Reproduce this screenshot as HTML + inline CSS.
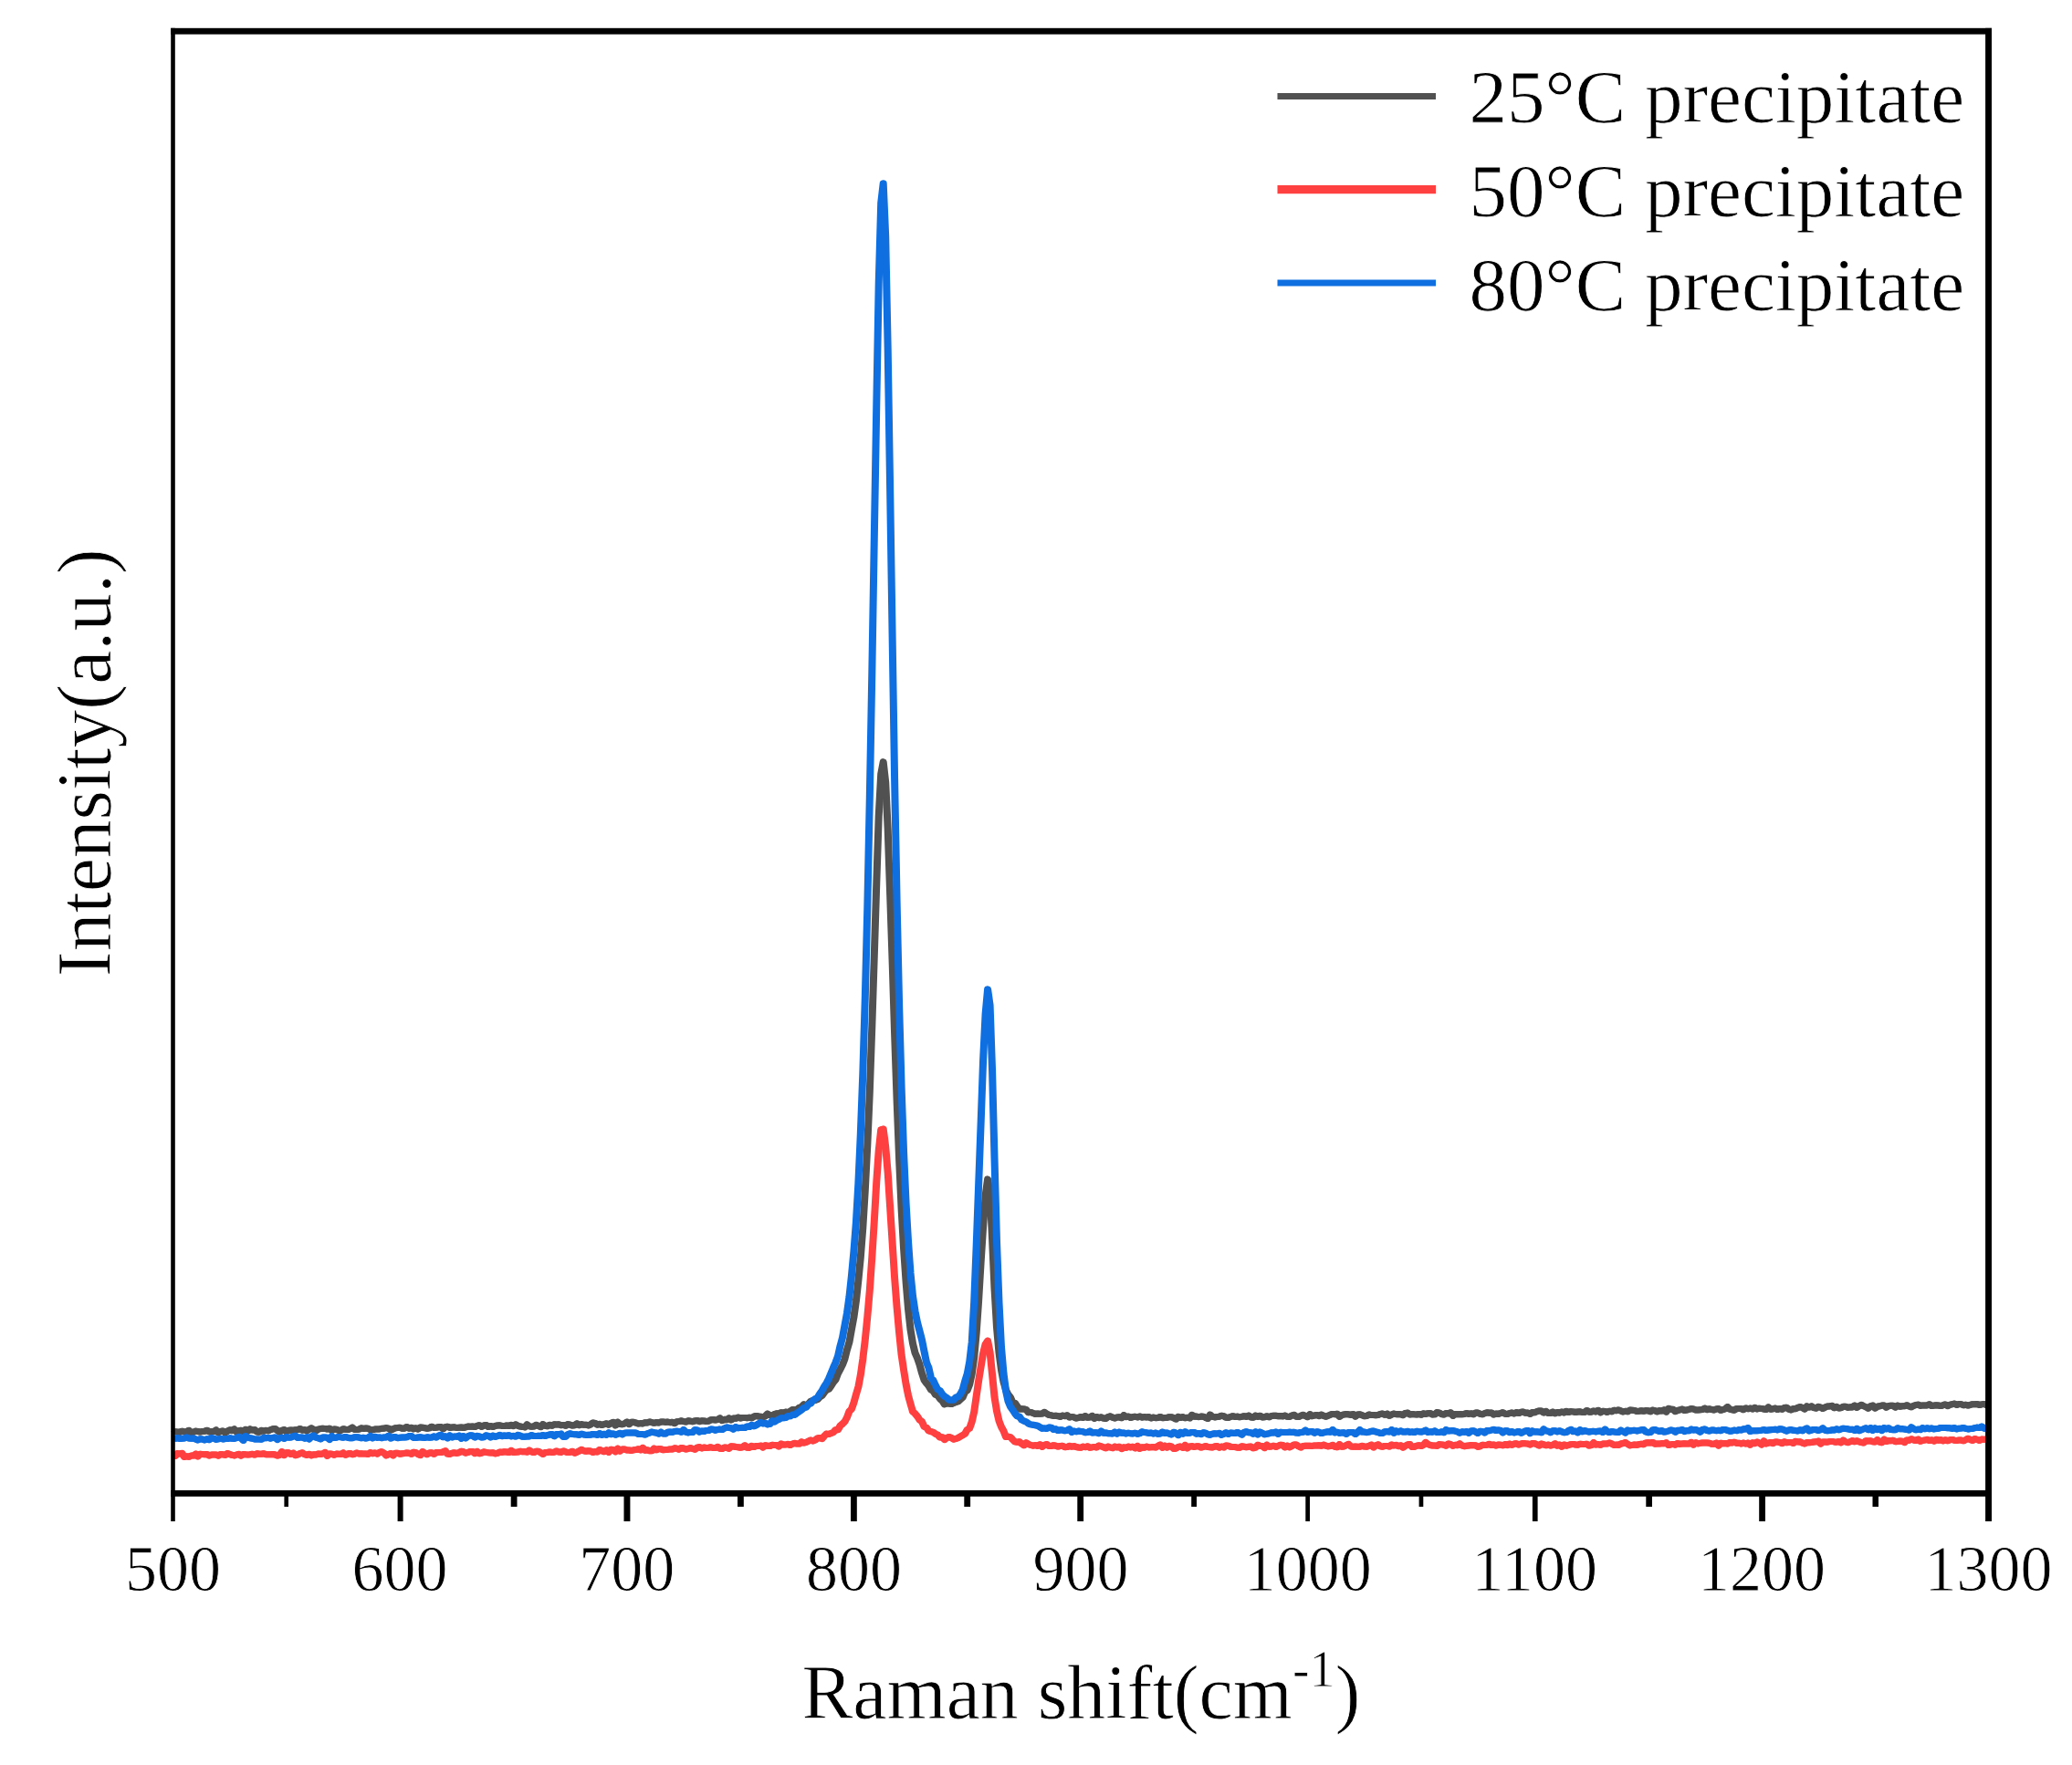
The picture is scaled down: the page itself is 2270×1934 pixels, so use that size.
<!DOCTYPE html>
<html lang="en"><head><meta charset="utf-8"><title>Raman spectra of precipitates</title>
<style>
html,body{margin:0;padding:0;background:#fff;}
body{width:2270px;height:1934px;overflow:hidden;}
svg{display:block;}
svg text{font-family:"Liberation Serif","Times New Roman",serif;fill:#000;stroke:#fff;stroke-width:0.8px;}
</style></head><body>
<svg width="2270" height="1934" viewBox="0 0 2270 1934">
<rect x="0" y="0" width="2270" height="1934" fill="#fff"/>
<g id="curves">
<polyline id="c0" transform="translate(-0.5,0)" points="191.0,1570.6 192.0,1568.7 194.5,1569.1 197.0,1569.4 199.4,1568.2 201.9,1568.9 204.4,1568.9 206.9,1567.3 209.4,1569.7 211.9,1569.3 214.4,1568.1 216.8,1568.5 219.3,1569.1 221.8,1568.4 224.3,1568.3 226.8,1567.2 229.3,1569.0 231.8,1568.5 234.3,1568.6 236.7,1567.0 239.2,1569.8 241.7,1568.4 244.2,1567.9 246.7,1570.0 249.2,1568.1 251.7,1566.8 254.1,1567.7 256.6,1566.0 259.1,1568.9 261.6,1567.6 264.1,1567.2 266.6,1568.8 269.1,1566.3 271.5,1568.3 274.0,1565.9 276.5,1567.1 279.0,1566.6 281.5,1568.9 284.0,1569.2 286.5,1567.2 289.0,1568.2 291.4,1567.3 293.9,1567.9 296.4,1566.7 298.9,1565.8 301.4,1565.6 303.9,1567.6 306.4,1569.2 308.8,1567.4 311.3,1566.6 313.8,1568.8 316.3,1567.2 318.8,1567.1 321.3,1567.2 323.8,1566.8 326.2,1566.6 328.7,1565.5 331.2,1567.2 333.7,1566.6 336.2,1567.8 338.7,1566.3 341.2,1564.9 343.7,1566.5 346.1,1568.0 348.6,1566.1 351.1,1565.6 353.6,1565.3 356.1,1565.4 358.6,1566.0 361.1,1565.2 363.5,1567.6 366.0,1565.9 368.5,1566.2 371.0,1567.4 373.5,1567.4 376.0,1565.8 378.5,1566.3 380.9,1566.6 383.4,1565.7 385.9,1564.2 388.4,1566.4 390.9,1566.6 393.4,1566.1 395.9,1564.8 398.3,1565.4 400.8,1565.1 403.3,1565.3 405.8,1566.7 408.3,1566.8 410.8,1566.0 413.3,1565.9 415.8,1565.9 418.2,1565.3 420.7,1565.2 423.2,1564.6 425.7,1565.1 428.2,1567.1 430.7,1565.8 433.2,1564.7 435.6,1564.5 438.1,1564.2 440.6,1565.2 443.1,1565.2 445.6,1563.5 448.1,1565.2 450.6,1564.2 453.0,1565.9 455.5,1564.8 458.0,1566.1 460.5,1564.1 463.0,1564.2 465.5,1564.7 468.0,1565.3 470.5,1564.9 472.9,1563.2 475.4,1564.4 477.9,1564.2 480.4,1563.8 482.9,1563.5 485.4,1565.7 487.9,1563.7 490.3,1563.2 492.8,1564.5 495.3,1564.0 497.8,1563.8 500.3,1564.5 502.8,1564.2 505.3,1564.0 507.7,1564.5 510.2,1563.9 512.7,1563.0 515.2,1563.2 517.7,1563.0 520.2,1563.6 522.7,1562.4 525.2,1561.7 527.6,1563.4 530.1,1562.0 532.6,1561.4 535.1,1563.5 537.6,1562.5 540.1,1563.5 542.6,1562.5 545.0,1561.9 547.5,1561.8 550.0,1562.4 552.5,1562.6 555.0,1562.0 557.5,1562.5 560.0,1561.3 562.4,1562.6 564.9,1560.9 567.4,1562.3 569.9,1563.1 572.4,1563.4 574.9,1563.9 577.4,1560.9 579.8,1562.9 582.3,1563.3 584.8,1563.0 587.3,1561.3 589.8,1562.4 592.3,1563.7 594.8,1560.6 597.3,1562.3 599.7,1562.8 602.2,1561.2 604.7,1562.3 607.2,1560.7 609.7,1560.9 612.2,1560.8 614.7,1561.7 617.1,1561.4 619.6,1562.3 622.1,1560.5 624.6,1561.2 627.1,1562.1 629.6,1561.7 632.1,1559.9 634.5,1561.7 637.0,1560.6 639.5,1561.3 642.0,1561.2 644.5,1561.9 647.0,1560.9 649.5,1559.0 652.0,1559.4 654.4,1561.2 656.9,1560.3 659.4,1561.5 661.9,1560.6 664.4,1559.7 666.9,1561.2 669.4,1559.5 671.8,1558.3 674.3,1561.9 676.8,1558.3 679.3,1560.5 681.8,1560.7 684.3,1559.9 686.8,1558.2 689.2,1560.6 691.7,1558.3 694.2,1558.3 696.7,1559.1 699.2,1560.1 701.7,1559.6 704.2,1559.9 706.7,1558.7 709.1,1558.9 711.6,1557.9 714.1,1558.6 716.6,1559.3 719.1,1558.5 721.6,1559.1 724.1,1558.0 726.5,1557.9 729.0,1558.4 731.5,1558.1 734.0,1558.7 736.5,1558.3 739.0,1559.6 741.5,1557.7 743.9,1557.6 746.4,1556.8 748.9,1557.6 751.4,1558.1 753.9,1556.7 756.4,1557.2 758.9,1557.8 761.3,1556.9 763.8,1556.4 766.3,1557.7 768.8,1556.8 771.3,1556.9 773.8,1557.5 776.3,1557.3 778.8,1555.8 781.2,1555.5 783.7,1556.1 786.2,1555.6 788.7,1553.9 791.2,1556.6 793.7,1555.3 796.2,1555.8 798.6,1553.9 801.1,1555.9 803.6,1554.1 806.1,1554.3 808.6,1553.0 811.1,1553.9 813.6,1553.6 816.0,1553.4 818.5,1553.8 821.0,1553.2 823.5,1553.8 826.0,1552.2 828.5,1551.4 831.0,1552.0 833.5,1552.3 835.9,1552.6 838.4,1551.8 840.9,1549.2 843.4,1550.7 845.9,1551.3 848.4,1549.6 850.9,1548.7 853.3,1549.0 855.8,1547.7 858.3,1548.2 860.8,1547.1 863.3,1547.8 865.8,1546.3 868.3,1544.5 870.7,1545.0 873.2,1544.5 875.7,1542.3 878.2,1541.5 880.7,1538.8 883.2,1540.6 885.7,1538.1 888.2,1535.5 890.6,1534.4 893.1,1534.3 895.6,1533.5 898.1,1530.9 900.6,1529.3 903.1,1525.7 905.6,1522.9 908.0,1522.1 910.5,1518.6 913.0,1514.6 915.5,1511.7 918.0,1505.1 920.5,1500.3 923.0,1495.5 925.4,1489.2 927.9,1479.2 930.4,1470.8 932.9,1456.9 935.4,1443.4 937.9,1425.5 940.4,1402.7 942.8,1377.8 945.3,1345.5 947.8,1304.1 950.3,1254.8 952.8,1196.7 955.3,1124.8 957.8,1046.8 960.3,967.2 962.7,894.6 965.2,848.1 967.7,834.9 970.2,857.2 972.7,908.8 975.2,981.4 977.7,1055.7 980.1,1132.8 982.6,1205.9 985.1,1270.3 987.6,1324.7 990.1,1368.9 992.6,1405.0 995.1,1435.2 997.5,1456.6 1000.0,1472.0 1002.5,1482.4 1005.0,1488.1 1007.5,1495.3 1010.0,1504.5 1012.5,1512.2 1015.0,1515.7 1017.4,1518.4 1019.9,1522.8 1022.4,1524.1 1024.9,1528.3 1027.4,1529.2 1029.9,1532.8 1032.4,1535.0 1034.8,1538.8 1037.3,1537.8 1039.8,1538.1 1042.3,1538.6 1044.8,1537.4 1047.3,1536.5 1049.8,1535.6 1052.2,1533.4 1054.7,1531.1 1057.2,1525.2 1059.7,1523.6 1062.2,1517.0 1064.7,1505.4 1067.2,1487.6 1069.7,1460.5 1072.1,1425.8 1074.6,1383.3 1077.1,1344.3 1079.6,1310.1 1082.1,1292.1 1084.6,1306.7 1087.1,1358.4 1089.5,1411.8 1092.0,1454.5 1094.5,1482.4 1097.0,1501.1 1099.5,1514.3 1102.0,1523.1 1104.5,1528.0 1106.9,1530.9 1109.4,1536.7 1111.9,1537.3 1114.4,1540.9 1116.9,1544.1 1119.4,1543.8 1121.9,1543.9 1124.3,1544.6 1126.8,1547.8 1129.3,1547.4 1131.8,1548.5 1134.3,1549.4 1136.8,1549.0 1139.3,1549.2 1141.8,1549.0 1144.2,1547.4 1146.7,1549.1 1149.2,1550.6 1151.7,1550.8 1154.2,1551.5 1156.7,1551.2 1159.2,1551.7 1161.6,1552.4 1164.1,1551.0 1166.6,1551.7 1169.1,1550.7 1171.6,1553.1 1174.1,1552.4 1176.6,1552.9 1179.0,1553.9 1181.5,1553.6 1184.0,1552.6 1186.5,1553.5 1189.0,1551.5 1191.5,1553.3 1194.0,1553.1 1196.5,1551.5 1198.9,1554.3 1201.4,1552.5 1203.9,1553.7 1206.4,1552.8 1208.9,1554.1 1211.4,1554.4 1213.9,1552.5 1216.3,1551.8 1218.8,1553.1 1221.3,1554.0 1223.8,1552.9 1226.3,1552.7 1228.8,1553.7 1231.3,1550.8 1233.7,1552.7 1236.2,1552.0 1238.7,1553.5 1241.2,1552.6 1243.7,1552.3 1246.2,1552.9 1248.7,1551.9 1251.2,1553.2 1253.6,1552.6 1256.1,1552.9 1258.6,1552.6 1261.1,1554.0 1263.6,1553.1 1266.1,1553.7 1268.6,1553.6 1271.0,1552.4 1273.5,1553.7 1276.0,1553.4 1278.5,1553.4 1281.0,1552.7 1283.5,1552.7 1286.0,1553.8 1288.4,1555.0 1290.9,1552.3 1293.4,1553.5 1295.9,1552.6 1298.4,1553.7 1300.9,1553.3 1303.4,1553.9 1305.8,1550.4 1308.3,1552.3 1310.8,1552.0 1313.3,1552.7 1315.8,1552.1 1318.3,1552.2 1320.8,1553.4 1323.3,1554.4 1325.7,1550.1 1328.2,1552.4 1330.7,1552.9 1333.2,1552.6 1335.7,1552.3 1338.2,1551.3 1340.7,1551.7 1343.1,1553.2 1345.6,1553.4 1348.1,1552.5 1350.6,1551.7 1353.1,1552.5 1355.6,1552.1 1358.1,1552.8 1360.5,1552.4 1363.0,1551.7 1365.5,1552.4 1368.0,1551.1 1370.5,1552.9 1373.0,1553.2 1375.5,1551.1 1378.0,1552.5 1380.4,1551.2 1382.9,1553.0 1385.4,1552.8 1387.9,1551.7 1390.4,1552.8 1392.9,1551.5 1395.4,1551.3 1397.8,1551.3 1400.3,1551.7 1402.8,1551.5 1405.3,1551.9 1407.8,1551.1 1410.3,1552.3 1412.8,1552.5 1415.2,1551.1 1417.7,1550.3 1420.2,1552.2 1422.7,1552.5 1425.2,1551.3 1427.7,1550.3 1430.2,1551.6 1432.7,1552.7 1435.1,1549.6 1437.6,1551.7 1440.1,1551.0 1442.6,1550.4 1445.1,1551.6 1447.6,1550.0 1450.1,1551.4 1452.5,1552.3 1455.0,1551.2 1457.5,1550.2 1460.0,1549.4 1462.5,1549.8 1465.0,1549.2 1467.5,1552.3 1469.9,1550.6 1472.4,1549.9 1474.9,1549.6 1477.4,1549.8 1479.9,1550.4 1482.4,1549.5 1484.9,1552.1 1487.3,1549.9 1489.8,1549.8 1492.3,1550.8 1494.8,1551.8 1497.3,1551.6 1499.8,1550.0 1502.3,1550.6 1504.8,1550.5 1507.2,1550.8 1509.7,1550.5 1512.2,1549.4 1514.7,1549.0 1517.2,1550.3 1519.7,1549.0 1522.2,1551.3 1524.6,1550.1 1527.1,1549.1 1529.6,1549.7 1532.1,1549.5 1534.6,1549.8 1537.1,1550.7 1539.6,1548.5 1542.0,1548.1 1544.5,1550.0 1547.0,1549.5 1549.5,1549.8 1552.0,1550.0 1554.5,1549.4 1557.0,1550.3 1559.5,1548.7 1561.9,1549.5 1564.4,1548.7 1566.9,1548.4 1569.4,1549.9 1571.9,1549.8 1574.4,1547.5 1576.9,1548.2 1579.3,1549.5 1581.8,1550.1 1584.3,1548.5 1586.8,1548.9 1589.3,1547.8 1591.8,1551.3 1594.3,1549.4 1596.7,1549.7 1599.2,1549.5 1601.7,1549.7 1604.2,1549.4 1606.7,1548.5 1609.2,1549.4 1611.7,1548.8 1614.1,1549.8 1616.6,1548.0 1619.1,1548.1 1621.6,1549.2 1624.1,1549.7 1626.6,1548.6 1629.1,1547.8 1631.6,1548.3 1634.0,1547.9 1636.5,1550.0 1639.0,1549.1 1641.5,1549.4 1644.0,1548.5 1646.5,1547.7 1649.0,1549.2 1651.4,1549.6 1653.9,1548.6 1656.4,1548.0 1658.9,1549.0 1661.4,1547.6 1663.9,1548.6 1666.4,1547.2 1668.8,1547.0 1671.3,1548.3 1673.8,1548.1 1676.3,1549.4 1678.8,1547.4 1681.3,1547.7 1683.8,1546.6 1686.3,1545.9 1688.7,1545.9 1691.2,1547.9 1693.7,1546.4 1696.2,1548.4 1698.7,1548.6 1701.2,1547.1 1703.7,1548.8 1706.1,1547.4 1708.6,1548.2 1711.1,1547.0 1713.6,1548.0 1716.1,1546.2 1718.6,1547.6 1721.1,1546.6 1723.5,1546.9 1726.0,1547.5 1728.5,1547.0 1731.0,1546.8 1733.5,1547.5 1736.0,1547.5 1738.5,1545.5 1741.0,1547.2 1743.4,1547.3 1745.9,1545.9 1748.4,1546.9 1750.9,1545.3 1753.4,1547.8 1755.9,1546.2 1758.4,1546.4 1760.8,1547.5 1763.3,1546.2 1765.8,1546.8 1768.3,1545.3 1770.8,1545.7 1773.3,1544.9 1775.8,1546.0 1778.2,1547.0 1780.7,1546.3 1783.2,1546.8 1785.7,1545.1 1788.2,1545.2 1790.7,1545.5 1793.2,1546.4 1795.6,1546.2 1798.1,1545.8 1800.6,1546.3 1803.1,1545.6 1805.6,1545.7 1808.1,1546.8 1810.6,1545.1 1813.1,1545.7 1815.5,1547.0 1818.0,1545.6 1820.5,1546.1 1823.0,1544.9 1825.5,1547.1 1828.0,1543.3 1830.5,1544.3 1832.9,1544.3 1835.4,1546.7 1837.9,1545.5 1840.4,1544.9 1842.9,1543.9 1845.4,1545.4 1847.9,1545.1 1850.3,1544.3 1852.8,1543.6 1855.3,1543.9 1857.8,1545.0 1860.3,1545.1 1862.8,1544.8 1865.3,1544.6 1867.8,1543.1 1870.2,1544.7 1872.7,1543.7 1875.2,1544.6 1877.7,1544.9 1880.2,1543.9 1882.7,1543.5 1885.2,1545.3 1887.6,1544.7 1890.1,1543.8 1892.6,1541.6 1895.1,1544.2 1897.6,1544.8 1900.1,1545.2 1902.6,1543.5 1905.0,1543.5 1907.5,1543.6 1910.0,1544.7 1912.5,1542.9 1915.0,1543.8 1917.5,1543.0 1920.0,1544.0 1922.5,1542.3 1924.9,1544.0 1927.4,1543.2 1929.9,1543.4 1932.4,1544.0 1934.9,1544.5 1937.4,1541.9 1939.9,1544.3 1942.3,1543.9 1944.8,1543.0 1947.3,1544.5 1949.8,1543.4 1952.3,1544.3 1954.8,1542.6 1957.3,1542.3 1959.7,1544.1 1962.2,1544.9 1964.7,1543.5 1967.2,1543.7 1969.7,1542.4 1972.2,1541.6 1974.7,1542.5 1977.1,1544.0 1979.6,1540.9 1982.1,1542.1 1984.6,1540.8 1987.1,1542.6 1989.6,1543.2 1992.1,1541.3 1994.6,1542.0 1997.0,1543.5 1999.5,1542.1 2002.0,1541.1 2004.5,1540.9 2007.0,1540.3 2009.5,1542.7 2012.0,1541.3 2014.4,1542.9 2016.9,1542.7 2019.4,1541.2 2021.9,1541.3 2024.4,1542.4 2026.9,1541.8 2029.4,1541.9 2031.8,1540.1 2034.3,1542.4 2036.8,1540.7 2039.3,1539.4 2041.8,1540.8 2044.3,1541.7 2046.8,1543.2 2049.3,1540.9 2051.7,1540.0 2054.2,1543.1 2056.7,1541.3 2059.2,1540.8 2061.7,1540.0 2064.2,1540.1 2066.7,1542.2 2069.1,1540.6 2071.6,1540.3 2074.1,1540.3 2076.6,1542.1 2079.1,1540.1 2081.6,1541.2 2084.1,1540.8 2086.5,1540.7 2089.0,1539.7 2091.5,1541.0 2094.0,1541.8 2096.5,1540.3 2099.0,1539.5 2101.5,1539.1 2104.0,1540.4 2106.4,1539.9 2108.9,1540.0 2111.4,1540.0 2113.9,1538.7 2116.4,1540.6 2118.9,1540.1 2121.4,1539.8 2123.8,1540.0 2126.3,1540.6 2128.8,1539.7 2131.3,1538.9 2133.8,1540.6 2136.3,1539.2 2138.8,1538.8 2141.2,1538.0 2143.7,1539.4 2146.2,1538.4 2148.7,1538.8 2151.2,1539.7 2153.7,1539.2 2156.2,1540.1 2158.6,1539.4 2161.1,1538.7 2163.6,1538.7 2166.1,1538.5 2168.6,1539.5 2171.1,1538.9 2173.6,1538.4 2176.1,1539.5 2176.0,1538.9" fill="none" stroke="#515151" stroke-width="7" stroke-linejoin="round" stroke-linecap="butt"/>
<use href="#c0" x="1" y="0"/>
<polyline id="c1" transform="translate(-0.5,0)" points="191.0,1594.5 192.0,1595.4 194.5,1592.6 197.0,1593.1 199.4,1592.3 201.9,1596.5 204.4,1595.8 206.9,1596.3 209.4,1595.0 211.9,1595.1 214.4,1593.2 216.8,1595.9 219.3,1593.2 221.8,1593.6 224.3,1593.8 226.8,1593.4 229.3,1594.9 231.8,1593.9 234.3,1594.0 236.7,1593.9 239.2,1595.2 241.7,1593.5 244.2,1593.8 246.7,1594.4 249.2,1592.5 251.7,1593.5 254.1,1594.4 256.6,1594.9 259.1,1594.0 261.6,1593.3 264.1,1595.1 266.6,1593.6 269.1,1593.8 271.5,1593.9 274.0,1593.7 276.5,1593.3 279.0,1594.1 281.5,1592.7 284.0,1593.2 286.5,1593.3 289.0,1592.8 291.4,1593.7 293.9,1593.7 296.4,1593.7 298.9,1593.4 301.4,1594.0 303.9,1595.1 306.4,1594.4 308.8,1590.7 311.3,1594.5 313.8,1591.8 316.3,1591.8 318.8,1593.5 321.3,1592.2 323.8,1594.8 326.2,1594.0 328.7,1592.6 331.2,1591.8 333.7,1593.6 336.2,1594.4 338.7,1593.3 341.2,1594.9 343.7,1593.7 346.1,1593.9 348.6,1592.9 351.1,1593.5 353.6,1592.9 356.1,1591.4 358.6,1595.3 361.1,1592.9 363.5,1593.2 366.0,1594.2 368.5,1593.1 371.0,1593.2 373.5,1593.4 376.0,1591.9 378.5,1594.3 380.9,1593.2 383.4,1592.4 385.9,1593.7 388.4,1593.2 390.9,1592.0 393.4,1593.0 395.9,1592.8 398.3,1593.1 400.8,1593.1 403.3,1593.4 405.8,1591.6 408.3,1592.7 410.8,1591.9 413.3,1593.1 415.8,1591.4 418.2,1590.7 420.7,1592.2 423.2,1594.9 425.7,1593.6 428.2,1592.6 430.7,1594.8 433.2,1592.3 435.6,1592.3 438.1,1593.2 440.6,1592.7 443.1,1592.4 445.6,1592.0 448.1,1592.3 450.6,1593.3 453.0,1591.2 455.5,1591.7 458.0,1593.5 460.5,1594.6 463.0,1590.6 465.5,1592.6 468.0,1593.7 470.5,1592.0 472.9,1591.7 475.4,1593.3 477.9,1591.6 480.4,1591.5 482.9,1591.6 485.4,1590.8 487.9,1589.9 490.3,1593.1 492.8,1593.5 495.3,1592.2 497.8,1591.8 500.3,1592.4 502.8,1591.8 505.3,1590.3 507.7,1590.8 510.2,1592.2 512.7,1591.5 515.2,1590.4 517.7,1590.5 520.2,1592.6 522.7,1590.4 525.2,1592.8 527.6,1592.1 530.1,1590.8 532.6,1591.4 535.1,1591.8 537.6,1591.9 540.1,1591.8 542.6,1592.9 545.0,1592.4 547.5,1591.1 550.0,1591.4 552.5,1590.7 555.0,1591.0 557.5,1591.5 560.0,1589.3 562.4,1591.5 564.9,1591.3 567.4,1591.1 569.9,1590.2 572.4,1590.8 574.9,1590.6 577.4,1591.2 579.8,1589.0 582.3,1590.9 584.8,1591.6 587.3,1590.3 589.8,1590.2 592.3,1591.7 594.8,1593.4 597.3,1591.5 599.7,1591.5 602.2,1590.9 604.7,1591.5 607.2,1591.3 609.7,1589.9 612.2,1591.0 614.7,1591.4 617.1,1589.9 619.6,1590.8 622.1,1591.6 624.6,1591.3 627.1,1590.3 629.6,1592.2 632.1,1591.2 634.5,1590.0 637.0,1588.4 639.5,1589.8 642.0,1590.2 644.5,1589.7 647.0,1590.0 649.5,1591.4 652.0,1590.6 654.4,1591.0 656.9,1588.5 659.4,1589.7 661.9,1590.8 664.4,1588.8 666.9,1591.3 669.4,1588.3 671.8,1588.8 674.3,1590.7 676.8,1587.3 679.3,1590.0 681.8,1588.1 684.3,1588.1 686.8,1589.1 689.2,1589.0 691.7,1589.5 694.2,1588.8 696.7,1588.6 699.2,1587.7 701.7,1589.0 704.2,1586.4 706.7,1589.2 709.1,1588.7 711.6,1589.7 714.1,1589.7 716.6,1587.1 719.1,1588.8 721.6,1587.5 724.1,1587.7 726.5,1588.8 729.0,1588.5 731.5,1588.4 734.0,1587.9 736.5,1588.0 739.0,1586.8 741.5,1587.2 743.9,1588.2 746.4,1586.5 748.9,1587.0 751.4,1588.1 753.9,1587.3 756.4,1586.6 758.9,1587.5 761.3,1588.3 763.8,1586.2 766.3,1585.6 768.8,1587.0 771.3,1586.1 773.8,1586.4 776.3,1586.2 778.8,1585.8 781.2,1586.5 783.7,1586.6 786.2,1585.4 788.7,1587.2 791.2,1587.5 793.7,1586.0 796.2,1586.3 798.6,1587.4 801.1,1584.8 803.6,1584.9 806.1,1585.5 808.6,1585.7 811.1,1586.2 813.6,1585.8 816.0,1583.8 818.5,1586.3 821.0,1586.4 823.5,1584.3 826.0,1585.6 828.5,1584.4 831.0,1584.5 833.5,1584.1 835.9,1586.0 838.4,1583.7 840.9,1584.3 843.4,1584.6 845.9,1583.2 848.4,1583.6 850.9,1583.5 853.3,1585.0 855.8,1582.1 858.3,1583.0 860.8,1583.0 863.3,1582.3 865.8,1583.5 868.3,1582.0 870.7,1581.3 873.2,1582.1 875.7,1582.1 878.2,1579.8 880.7,1581.0 883.2,1580.4 885.7,1579.2 888.2,1578.0 890.6,1578.9 893.1,1578.0 895.6,1575.9 898.1,1575.5 900.6,1576.6 903.1,1573.5 905.6,1571.1 908.0,1571.5 910.5,1570.5 913.0,1569.5 915.5,1566.7 918.0,1566.8 920.5,1562.3 923.0,1560.2 925.4,1557.8 927.9,1553.2 930.4,1546.5 932.9,1544.0 935.4,1537.0 937.9,1528.0 940.4,1519.5 942.8,1506.7 945.3,1489.2 947.8,1468.2 950.3,1443.0 952.8,1414.1 955.3,1377.9 957.8,1338.1 960.3,1294.5 962.7,1260.9 965.2,1237.8 967.7,1237.0 970.2,1256.5 972.7,1285.2 975.2,1324.0 977.7,1362.7 980.1,1400.1 982.6,1432.5 985.1,1460.3 987.6,1484.6 990.1,1501.2 992.6,1516.7 995.1,1529.3 997.5,1538.1 1000.0,1546.8 1002.5,1548.9 1005.0,1551.9 1007.5,1555.8 1010.0,1557.6 1012.5,1563.3 1015.0,1564.3 1017.4,1567.7 1019.9,1568.7 1022.4,1569.4 1024.9,1571.2 1027.4,1572.3 1029.9,1575.0 1032.4,1574.7 1034.8,1577.5 1037.3,1575.5 1039.8,1574.4 1042.3,1575.5 1044.8,1577.2 1047.3,1576.5 1049.8,1575.5 1052.2,1574.0 1054.7,1572.6 1057.2,1571.0 1059.7,1566.5 1062.2,1565.2 1064.7,1558.0 1067.2,1546.9 1069.7,1529.8 1072.1,1513.2 1074.6,1497.7 1077.1,1482.9 1079.6,1472.9 1082.1,1469.2 1084.6,1481.8 1087.1,1506.7 1089.5,1530.6 1092.0,1546.1 1094.5,1557.0 1097.0,1563.5 1099.5,1568.0 1102.0,1574.4 1104.5,1574.2 1106.9,1574.7 1109.4,1577.4 1111.9,1579.9 1114.4,1580.3 1116.9,1579.8 1119.4,1582.1 1121.9,1583.7 1124.3,1580.8 1126.8,1582.5 1129.3,1583.5 1131.8,1584.2 1134.3,1583.6 1136.8,1584.4 1139.3,1582.8 1141.8,1585.3 1144.2,1583.3 1146.7,1582.5 1149.2,1584.5 1151.7,1584.5 1154.2,1583.7 1156.7,1584.2 1159.2,1585.1 1161.6,1584.4 1164.1,1584.3 1166.6,1585.7 1169.1,1585.6 1171.6,1584.3 1174.1,1585.2 1176.6,1584.6 1179.0,1585.5 1181.5,1586.0 1184.0,1586.3 1186.5,1585.1 1189.0,1585.7 1191.5,1584.8 1194.0,1586.3 1196.5,1585.9 1198.9,1585.4 1201.4,1586.0 1203.9,1584.0 1206.4,1584.8 1208.9,1585.7 1211.4,1586.8 1213.9,1585.1 1216.3,1586.0 1218.8,1586.7 1221.3,1585.1 1223.8,1586.0 1226.3,1585.2 1228.8,1587.6 1231.3,1585.8 1233.7,1586.4 1236.2,1585.1 1238.7,1585.9 1241.2,1585.2 1243.7,1586.8 1246.2,1584.5 1248.7,1587.4 1251.2,1585.8 1253.6,1586.2 1256.1,1585.1 1258.6,1585.9 1261.1,1585.8 1263.6,1585.6 1266.1,1586.0 1268.6,1584.4 1271.0,1583.0 1273.5,1586.2 1276.0,1584.2 1278.5,1586.1 1281.0,1584.2 1283.5,1585.1 1286.0,1587.6 1288.4,1587.0 1290.9,1585.5 1293.4,1585.0 1295.9,1586.3 1298.4,1583.5 1300.9,1586.8 1303.4,1584.9 1305.8,1584.6 1308.3,1585.5 1310.8,1584.8 1313.3,1584.7 1315.8,1586.1 1318.3,1585.3 1320.8,1584.6 1323.3,1585.6 1325.7,1585.8 1328.2,1586.0 1330.7,1585.0 1333.2,1584.5 1335.7,1586.2 1338.2,1585.1 1340.7,1586.0 1343.1,1583.9 1345.6,1584.2 1348.1,1585.3 1350.6,1585.4 1353.1,1585.6 1355.6,1586.2 1358.1,1586.3 1360.5,1584.7 1363.0,1585.1 1365.5,1585.8 1368.0,1585.2 1370.5,1585.1 1373.0,1586.8 1375.5,1586.1 1378.0,1583.3 1380.4,1584.4 1382.9,1584.6 1385.4,1586.6 1387.9,1583.3 1390.4,1585.3 1392.9,1585.0 1395.4,1584.2 1397.8,1585.5 1400.3,1584.4 1402.8,1583.3 1405.3,1583.6 1407.8,1585.9 1410.3,1584.1 1412.8,1585.9 1415.2,1584.7 1417.7,1583.0 1420.2,1583.1 1422.7,1584.9 1425.2,1586.0 1427.7,1584.4 1430.2,1584.2 1432.7,1584.2 1435.1,1584.3 1437.6,1584.4 1440.1,1583.9 1442.6,1584.0 1445.1,1583.8 1447.6,1584.2 1450.1,1583.1 1452.5,1584.2 1455.0,1584.9 1457.5,1584.5 1460.0,1583.3 1462.5,1585.2 1465.0,1585.7 1467.5,1582.7 1469.9,1585.3 1472.4,1585.0 1474.9,1583.7 1477.4,1582.4 1479.9,1584.9 1482.4,1585.2 1484.9,1585.1 1487.3,1585.2 1489.8,1585.2 1492.3,1584.2 1494.8,1585.1 1497.3,1585.3 1499.8,1584.3 1502.3,1583.1 1504.8,1585.9 1507.2,1584.0 1509.7,1582.8 1512.2,1584.9 1514.7,1585.3 1517.2,1584.4 1519.7,1584.4 1522.2,1585.1 1524.6,1583.0 1527.1,1584.0 1529.6,1583.3 1532.1,1584.7 1534.6,1583.8 1537.1,1586.1 1539.6,1584.3 1542.0,1583.0 1544.5,1582.5 1547.0,1585.5 1549.5,1585.4 1552.0,1584.1 1554.5,1583.7 1557.0,1584.5 1559.5,1583.4 1561.9,1580.4 1564.4,1582.5 1566.9,1583.5 1569.4,1584.0 1571.9,1584.0 1574.4,1584.4 1576.9,1582.6 1579.3,1582.9 1581.8,1583.2 1584.3,1584.2 1586.8,1582.0 1589.3,1582.6 1591.8,1584.2 1594.3,1583.2 1596.7,1583.7 1599.2,1581.9 1601.7,1583.9 1604.2,1584.7 1606.7,1584.2 1609.2,1583.9 1611.7,1583.6 1614.1,1583.8 1616.6,1583.8 1619.1,1585.4 1621.6,1584.8 1624.1,1583.3 1626.6,1583.5 1629.1,1583.2 1631.6,1582.3 1634.0,1583.6 1636.5,1582.9 1639.0,1584.1 1641.5,1583.0 1644.0,1583.3 1646.5,1583.8 1649.0,1582.5 1651.4,1583.7 1653.9,1582.0 1656.4,1583.3 1658.9,1582.1 1661.4,1581.8 1663.9,1583.1 1666.4,1582.1 1668.8,1581.4 1671.3,1581.7 1673.8,1581.9 1676.3,1582.9 1678.8,1581.4 1681.3,1581.7 1683.8,1582.9 1686.3,1584.0 1688.7,1582.0 1691.2,1582.9 1693.7,1583.8 1696.2,1583.0 1698.7,1584.0 1701.2,1583.4 1703.7,1581.8 1706.1,1584.1 1708.6,1583.1 1711.1,1585.2 1713.6,1583.0 1716.1,1584.2 1718.6,1583.4 1721.1,1582.7 1723.5,1582.4 1726.0,1583.0 1728.5,1583.2 1731.0,1582.2 1733.5,1582.5 1736.0,1582.5 1738.5,1582.2 1741.0,1584.1 1743.4,1583.5 1745.9,1580.8 1748.4,1583.1 1750.9,1582.5 1753.4,1583.3 1755.9,1582.0 1758.4,1581.9 1760.8,1582.1 1763.3,1581.1 1765.8,1582.1 1768.3,1583.5 1770.8,1583.1 1773.3,1583.4 1775.8,1582.0 1778.2,1581.5 1780.7,1580.6 1783.2,1582.3 1785.7,1583.9 1788.2,1583.4 1790.7,1583.0 1793.2,1583.4 1795.6,1582.7 1798.1,1582.3 1800.6,1582.8 1803.1,1580.9 1805.6,1580.8 1808.1,1581.1 1810.6,1580.4 1813.1,1582.3 1815.5,1582.1 1818.0,1582.1 1820.5,1581.6 1823.0,1581.8 1825.5,1580.9 1828.0,1583.5 1830.5,1582.9 1832.9,1582.4 1835.4,1583.2 1837.9,1581.5 1840.4,1582.4 1842.9,1582.0 1845.4,1581.8 1847.9,1582.0 1850.3,1582.1 1852.8,1580.4 1855.3,1583.1 1857.8,1580.7 1860.3,1581.9 1862.8,1581.3 1865.3,1581.1 1867.8,1581.0 1870.2,1581.0 1872.7,1581.3 1875.2,1582.3 1877.7,1582.3 1880.2,1581.1 1882.7,1584.1 1885.2,1581.3 1887.6,1581.8 1890.1,1581.6 1892.6,1581.9 1895.1,1580.4 1897.6,1581.0 1900.1,1580.2 1902.6,1581.4 1905.0,1581.2 1907.5,1582.0 1910.0,1581.1 1912.5,1582.0 1915.0,1581.1 1917.5,1583.2 1920.0,1580.9 1922.5,1581.7 1924.9,1580.0 1927.4,1581.2 1929.9,1583.0 1932.4,1579.0 1934.9,1581.9 1937.4,1581.1 1939.9,1580.5 1942.3,1581.7 1944.8,1579.9 1947.3,1580.1 1949.8,1580.5 1952.3,1581.7 1954.8,1579.7 1957.3,1580.7 1959.7,1580.5 1962.2,1580.5 1964.7,1581.4 1967.2,1579.3 1969.7,1579.9 1972.2,1579.8 1974.7,1581.1 1977.1,1581.9 1979.6,1580.5 1982.1,1580.8 1984.6,1580.5 1987.1,1580.0 1989.6,1579.8 1992.1,1579.1 1994.6,1582.0 1997.0,1579.9 1999.5,1579.9 2002.0,1580.2 2004.5,1579.6 2007.0,1579.4 2009.5,1579.9 2012.0,1580.2 2014.4,1579.5 2016.9,1580.8 2019.4,1578.2 2021.9,1580.0 2024.4,1580.7 2026.9,1579.8 2029.4,1578.5 2031.8,1579.8 2034.3,1578.8 2036.8,1579.9 2039.3,1580.6 2041.8,1581.0 2044.3,1578.7 2046.8,1579.0 2049.3,1578.8 2051.7,1579.7 2054.2,1580.1 2056.7,1577.7 2059.2,1580.2 2061.7,1580.8 2064.2,1577.3 2066.7,1579.4 2069.1,1578.4 2071.6,1578.8 2074.1,1578.3 2076.6,1579.7 2079.1,1579.5 2081.6,1578.9 2084.1,1579.2 2086.5,1580.6 2089.0,1578.0 2091.5,1578.2 2094.0,1576.7 2096.5,1578.0 2099.0,1578.5 2101.5,1577.0 2104.0,1579.3 2106.4,1578.4 2108.9,1578.0 2111.4,1577.3 2113.9,1578.6 2116.4,1577.8 2118.9,1579.1 2121.4,1577.2 2123.8,1578.3 2126.3,1577.6 2128.8,1578.9 2131.3,1577.7 2133.8,1578.8 2136.3,1577.8 2138.8,1577.4 2141.2,1578.3 2143.7,1578.4 2146.2,1578.1 2148.7,1578.1 2151.2,1578.8 2153.7,1577.5 2156.2,1576.2 2158.6,1577.6 2161.1,1578.4 2163.6,1576.5 2166.1,1577.5 2168.6,1578.4 2171.1,1577.0 2173.6,1577.4 2176.1,1576.9 2176.0,1577.7" fill="none" stroke="#FF4040" stroke-width="7" stroke-linejoin="round" stroke-linecap="butt"/>
<use href="#c1" x="1" y="0"/>
<polyline id="c2" transform="translate(-0.5,0)" points="191.0,1576.6 192.0,1576.3 194.5,1575.6 197.0,1576.5 199.4,1576.2 201.9,1576.1 204.4,1575.1 206.9,1576.0 209.4,1576.2 211.9,1575.9 214.4,1577.0 216.8,1578.0 219.3,1576.7 221.8,1577.0 224.3,1578.0 226.8,1576.7 229.3,1577.7 231.8,1575.5 234.3,1576.2 236.7,1577.4 239.2,1576.9 241.7,1576.3 244.2,1577.0 246.7,1576.5 249.2,1576.6 251.7,1575.8 254.1,1576.3 256.6,1576.4 259.1,1575.7 261.6,1574.2 264.1,1576.0 266.6,1578.3 269.1,1573.6 271.5,1575.2 274.0,1575.8 276.5,1576.2 279.0,1577.0 281.5,1576.9 284.0,1577.1 286.5,1577.2 289.0,1575.3 291.4,1575.8 293.9,1575.4 296.4,1576.2 298.9,1575.5 301.4,1575.0 303.9,1577.5 306.4,1575.6 308.8,1575.2 311.3,1576.5 313.8,1574.6 316.3,1575.2 318.8,1575.0 321.3,1573.9 323.8,1573.2 326.2,1575.6 328.7,1575.0 331.2,1575.0 333.7,1576.2 336.2,1574.7 338.7,1577.0 341.2,1574.0 343.7,1573.0 346.1,1575.2 348.6,1575.8 351.1,1576.9 353.6,1574.9 356.1,1575.0 358.6,1575.2 361.1,1577.5 363.5,1573.7 366.0,1575.6 368.5,1575.2 371.0,1574.4 373.5,1574.9 376.0,1575.3 378.5,1574.4 380.9,1575.2 383.4,1575.7 385.9,1575.8 388.4,1574.7 390.9,1574.8 393.4,1575.1 395.9,1575.8 398.3,1575.2 400.8,1576.1 403.3,1575.4 405.8,1573.5 408.3,1575.9 410.8,1574.3 413.3,1575.4 415.8,1574.9 418.2,1575.7 420.7,1574.9 423.2,1574.9 425.7,1573.3 428.2,1576.0 430.7,1574.8 433.2,1574.4 435.6,1575.8 438.1,1575.2 440.6,1574.9 443.1,1575.1 445.6,1574.7 448.1,1573.6 450.6,1573.4 453.0,1575.4 455.5,1575.5 458.0,1575.0 460.5,1574.7 463.0,1575.3 465.5,1575.4 468.0,1574.8 470.5,1575.3 472.9,1575.1 475.4,1573.8 477.9,1575.0 480.4,1573.3 482.9,1572.2 485.4,1574.8 487.9,1573.8 490.3,1575.9 492.8,1573.0 495.3,1575.0 497.8,1573.9 500.3,1574.3 502.8,1573.0 505.3,1576.2 507.7,1573.7 510.2,1575.8 512.7,1573.8 515.2,1572.8 517.7,1573.1 520.2,1575.0 522.7,1573.3 525.2,1573.9 527.6,1575.0 530.1,1574.7 532.6,1572.8 535.1,1573.4 537.6,1575.0 540.1,1573.1 542.6,1574.4 545.0,1573.7 547.5,1572.4 550.0,1573.8 552.5,1572.9 555.0,1573.5 557.5,1572.7 560.0,1573.9 562.4,1573.3 564.9,1574.1 567.4,1572.3 569.9,1573.1 572.4,1574.2 574.9,1574.3 577.4,1574.0 579.8,1573.9 582.3,1572.4 584.8,1573.4 587.3,1573.6 589.8,1573.2 592.3,1573.5 594.8,1572.5 597.3,1573.5 599.7,1572.6 602.2,1572.0 604.7,1571.4 607.2,1573.7 609.7,1571.6 612.2,1571.7 614.7,1571.1 617.1,1574.4 619.6,1574.2 622.1,1571.7 624.6,1570.7 627.1,1571.6 629.6,1571.7 632.1,1571.8 634.5,1572.5 637.0,1571.2 639.5,1572.0 642.0,1572.4 644.5,1572.3 647.0,1572.3 649.5,1571.4 652.0,1571.7 654.4,1572.4 656.9,1570.6 659.4,1572.5 661.9,1571.2 664.4,1572.4 666.9,1569.9 669.4,1571.8 671.8,1570.9 674.3,1572.3 676.8,1571.2 679.3,1570.3 681.8,1571.9 684.3,1570.3 686.8,1569.9 689.2,1570.0 691.7,1570.1 694.2,1570.1 696.7,1570.1 699.2,1571.4 701.7,1571.4 704.2,1571.6 706.7,1572.1 709.1,1570.8 711.6,1570.1 714.1,1569.0 716.6,1569.7 719.1,1570.0 721.6,1571.1 724.1,1569.2 726.5,1571.1 729.0,1571.0 731.5,1569.3 734.0,1569.1 736.5,1569.3 739.0,1568.5 741.5,1568.1 743.9,1568.4 746.4,1569.3 748.9,1566.6 751.4,1569.2 753.9,1569.9 756.4,1569.4 758.9,1569.6 761.3,1566.7 763.8,1566.9 766.3,1569.1 768.8,1567.9 771.3,1568.5 773.8,1567.4 776.3,1567.6 778.8,1565.9 781.2,1566.2 783.7,1567.3 786.2,1566.4 788.7,1566.1 791.2,1566.6 793.7,1564.9 796.2,1563.9 798.6,1564.4 801.1,1564.7 803.6,1566.1 806.1,1563.6 808.6,1564.8 811.1,1564.4 813.6,1564.3 816.0,1564.6 818.5,1562.9 821.0,1563.5 823.5,1561.3 826.0,1562.8 828.5,1561.7 831.0,1560.0 833.5,1558.5 835.9,1559.9 838.4,1559.3 840.9,1560.9 843.4,1560.4 845.9,1556.8 848.4,1558.0 850.9,1556.3 853.3,1555.5 855.8,1553.7 858.3,1553.8 860.8,1553.5 863.3,1551.6 865.8,1551.7 868.3,1550.1 870.7,1550.4 873.2,1548.3 875.7,1546.6 878.2,1544.8 880.7,1542.7 883.2,1542.1 885.7,1538.8 888.2,1537.9 890.6,1534.9 893.1,1532.6 895.6,1531.5 898.1,1527.3 900.6,1523.9 903.1,1519.1 905.6,1515.3 908.0,1510.7 910.5,1504.6 913.0,1498.5 915.5,1492.8 918.0,1486.0 920.5,1474.8 923.0,1465.6 925.4,1452.6 927.9,1439.1 930.4,1421.3 932.9,1398.2 935.4,1371.3 937.9,1338.9 940.4,1296.0 942.8,1242.6 945.3,1175.8 947.8,1093.2 950.3,994.5 952.8,874.1 955.3,737.9 957.8,589.4 960.3,442.0 962.7,310.9 965.2,222.5 967.7,200.9 970.2,258.8 972.7,383.4 975.2,540.4 977.7,703.0 980.1,853.7 982.6,987.7 985.1,1101.0 987.6,1191.3 990.1,1263.2 992.6,1318.7 995.1,1361.4 997.5,1395.0 1000.0,1420.1 1002.5,1436.6 1005.0,1449.0 1007.5,1458.5 1010.0,1468.1 1012.5,1480.7 1015.0,1492.8 1017.4,1498.6 1019.9,1509.8 1022.4,1512.5 1024.9,1517.9 1027.4,1522.6 1029.9,1523.9 1032.4,1527.8 1034.8,1530.1 1037.3,1531.5 1039.8,1533.9 1042.3,1534.0 1044.8,1533.9 1047.3,1531.0 1049.8,1530.6 1052.2,1527.4 1054.7,1522.7 1057.2,1513.4 1059.7,1505.3 1062.2,1492.1 1064.7,1470.8 1067.2,1426.5 1069.7,1364.4 1072.1,1299.2 1074.6,1231.2 1077.1,1161.4 1079.6,1110.8 1082.1,1083.9 1084.6,1101.5 1087.1,1174.3 1089.5,1268.8 1092.0,1360.0 1094.5,1427.2 1097.0,1476.1 1099.5,1505.0 1102.0,1524.0 1104.5,1535.4 1106.9,1541.2 1109.4,1544.9 1111.9,1548.7 1114.4,1551.8 1116.9,1552.3 1119.4,1555.9 1121.9,1557.1 1124.3,1558.0 1126.8,1559.9 1129.3,1560.9 1131.8,1561.3 1134.3,1561.8 1136.8,1562.2 1139.3,1563.7 1141.8,1565.3 1144.2,1564.9 1146.7,1565.5 1149.2,1564.1 1151.7,1564.2 1154.2,1566.5 1156.7,1565.8 1159.2,1567.6 1161.6,1566.7 1164.1,1567.0 1166.6,1567.8 1169.1,1567.3 1171.6,1565.8 1174.1,1569.3 1176.6,1568.0 1179.0,1568.8 1181.5,1568.1 1184.0,1568.4 1186.5,1568.8 1189.0,1569.7 1191.5,1569.6 1194.0,1568.0 1196.5,1570.1 1198.9,1569.8 1201.4,1569.7 1203.9,1570.6 1206.4,1568.1 1208.9,1570.2 1211.4,1569.9 1213.9,1570.7 1216.3,1570.5 1218.8,1571.0 1221.3,1569.2 1223.8,1571.1 1226.3,1569.1 1228.8,1570.2 1231.3,1570.0 1233.7,1570.9 1236.2,1570.2 1238.7,1570.8 1241.2,1570.9 1243.7,1570.2 1246.2,1571.3 1248.7,1570.7 1251.2,1568.8 1253.6,1569.6 1256.1,1569.8 1258.6,1570.4 1261.1,1570.1 1263.6,1571.0 1266.1,1570.0 1268.6,1571.3 1271.0,1571.0 1273.5,1569.1 1276.0,1570.5 1278.5,1570.0 1281.0,1571.1 1283.5,1571.9 1286.0,1569.3 1288.4,1570.3 1290.9,1572.6 1293.4,1569.5 1295.9,1571.1 1298.4,1568.8 1300.9,1570.4 1303.4,1570.2 1305.8,1569.4 1308.3,1569.4 1310.8,1571.3 1313.3,1570.4 1315.8,1571.7 1318.3,1569.7 1320.8,1570.1 1323.3,1571.7 1325.7,1572.2 1328.2,1571.2 1330.7,1570.8 1333.2,1571.0 1335.7,1570.3 1338.2,1572.4 1340.7,1571.3 1343.1,1569.7 1345.6,1571.5 1348.1,1570.0 1350.6,1570.3 1353.1,1570.6 1355.6,1569.4 1358.1,1570.7 1360.5,1572.1 1363.0,1569.3 1365.5,1568.7 1368.0,1569.8 1370.5,1569.7 1373.0,1571.1 1375.5,1569.0 1378.0,1571.8 1380.4,1569.0 1382.9,1570.3 1385.4,1571.8 1387.9,1571.2 1390.4,1570.8 1392.9,1569.8 1395.4,1570.1 1397.8,1569.1 1400.3,1571.4 1402.8,1569.3 1405.3,1569.4 1407.8,1569.6 1410.3,1569.5 1412.8,1569.1 1415.2,1569.5 1417.7,1569.3 1420.2,1570.1 1422.7,1570.2 1425.2,1569.4 1427.7,1569.3 1430.2,1567.2 1432.7,1569.4 1435.1,1568.7 1437.6,1568.4 1440.1,1570.2 1442.6,1568.7 1445.1,1569.2 1447.6,1570.6 1450.1,1569.9 1452.5,1569.2 1455.0,1568.8 1457.5,1569.2 1460.0,1566.6 1462.5,1569.9 1465.0,1569.2 1467.5,1570.4 1469.9,1569.9 1472.4,1569.7 1474.9,1571.4 1477.4,1569.5 1479.9,1569.5 1482.4,1569.5 1484.9,1571.4 1487.3,1569.5 1489.8,1566.8 1492.3,1569.1 1494.8,1569.1 1497.3,1569.7 1499.8,1569.1 1502.3,1568.3 1504.8,1568.1 1507.2,1568.9 1509.7,1569.5 1512.2,1570.4 1514.7,1570.5 1517.2,1568.7 1519.7,1568.6 1522.2,1569.0 1524.6,1566.7 1527.1,1570.1 1529.6,1567.9 1532.1,1569.0 1534.6,1567.8 1537.1,1569.0 1539.6,1569.1 1542.0,1568.2 1544.5,1569.4 1547.0,1568.8 1549.5,1569.6 1552.0,1568.2 1554.5,1568.8 1557.0,1569.1 1559.5,1568.3 1561.9,1567.0 1564.4,1569.4 1566.9,1568.8 1569.4,1569.3 1571.9,1567.9 1574.4,1569.5 1576.9,1569.5 1579.3,1568.8 1581.8,1569.7 1584.3,1566.7 1586.8,1567.9 1589.3,1567.7 1591.8,1567.5 1594.3,1568.2 1596.7,1568.8 1599.2,1570.2 1601.7,1568.8 1604.2,1569.3 1606.7,1568.5 1609.2,1570.3 1611.7,1567.9 1614.1,1567.7 1616.6,1568.9 1619.1,1570.4 1621.6,1568.3 1624.1,1568.4 1626.6,1570.0 1629.1,1567.6 1631.6,1567.8 1634.0,1567.0 1636.5,1566.3 1639.0,1567.5 1641.5,1566.9 1644.0,1567.5 1646.5,1569.8 1649.0,1567.7 1651.4,1567.8 1653.9,1569.6 1656.4,1568.5 1658.9,1569.9 1661.4,1569.2 1663.9,1568.4 1666.4,1570.3 1668.8,1569.1 1671.3,1567.9 1673.8,1567.4 1676.3,1570.5 1678.8,1567.9 1681.3,1569.1 1683.8,1568.8 1686.3,1569.2 1688.7,1569.8 1691.2,1566.0 1693.7,1567.9 1696.2,1568.3 1698.7,1569.7 1701.2,1567.8 1703.7,1567.7 1706.1,1568.9 1708.6,1567.8 1711.1,1568.9 1713.6,1569.7 1716.1,1569.6 1718.6,1567.5 1721.1,1566.4 1723.5,1568.7 1726.0,1568.1 1728.5,1569.8 1731.0,1566.7 1733.5,1568.8 1736.0,1567.5 1738.5,1568.4 1741.0,1569.0 1743.4,1568.5 1745.9,1568.3 1748.4,1568.9 1750.9,1568.2 1753.4,1568.0 1755.9,1569.4 1758.4,1566.1 1760.8,1568.7 1763.3,1569.6 1765.8,1568.5 1768.3,1568.9 1770.8,1569.2 1773.3,1569.4 1775.8,1567.1 1778.2,1568.6 1780.7,1570.1 1783.2,1567.0 1785.7,1568.0 1788.2,1567.5 1790.7,1567.3 1793.2,1568.0 1795.6,1567.4 1798.1,1566.8 1800.6,1566.5 1803.1,1568.9 1805.6,1569.7 1808.1,1569.6 1810.6,1567.0 1813.1,1566.5 1815.5,1567.5 1818.0,1568.5 1820.5,1567.5 1823.0,1569.1 1825.5,1568.7 1828.0,1568.0 1830.5,1566.9 1832.9,1567.4 1835.4,1569.2 1837.9,1567.2 1840.4,1567.4 1842.9,1566.6 1845.4,1568.6 1847.9,1567.5 1850.3,1567.8 1852.8,1566.0 1855.3,1567.1 1857.8,1566.5 1860.3,1567.7 1862.8,1569.1 1865.3,1566.5 1867.8,1566.0 1870.2,1567.6 1872.7,1568.1 1875.2,1567.0 1877.7,1567.1 1880.2,1567.7 1882.7,1567.3 1885.2,1567.7 1887.6,1566.5 1890.1,1566.5 1892.6,1567.4 1895.1,1568.2 1897.6,1567.9 1900.1,1567.1 1902.6,1567.7 1905.0,1566.6 1907.5,1567.1 1910.0,1565.8 1912.5,1566.0 1915.0,1564.6 1917.5,1568.5 1920.0,1567.7 1922.5,1567.8 1924.9,1567.7 1927.4,1567.4 1929.9,1567.2 1932.4,1566.6 1934.9,1567.5 1937.4,1567.0 1939.9,1566.7 1942.3,1566.6 1944.8,1566.2 1947.3,1566.9 1949.8,1565.7 1952.3,1565.9 1954.8,1567.0 1957.3,1568.2 1959.7,1566.9 1962.2,1566.6 1964.7,1567.3 1967.2,1567.6 1969.7,1568.0 1972.2,1566.7 1974.7,1567.8 1977.1,1566.2 1979.6,1565.0 1982.1,1568.0 1984.6,1567.2 1987.1,1566.4 1989.6,1566.6 1992.1,1567.5 1994.6,1566.7 1997.0,1564.9 1999.5,1567.3 2002.0,1567.7 2004.5,1567.6 2007.0,1566.8 2009.5,1567.0 2012.0,1565.8 2014.4,1566.8 2016.9,1566.0 2019.4,1565.2 2021.9,1565.5 2024.4,1565.8 2026.9,1566.4 2029.4,1566.2 2031.8,1567.5 2034.3,1565.3 2036.8,1567.7 2039.3,1566.7 2041.8,1565.8 2044.3,1564.8 2046.8,1566.7 2049.3,1564.7 2051.7,1567.4 2054.2,1564.9 2056.7,1566.7 2059.2,1565.4 2061.7,1567.5 2064.2,1564.6 2066.7,1565.9 2069.1,1564.7 2071.6,1566.6 2074.1,1566.7 2076.6,1566.8 2079.1,1564.8 2081.6,1565.8 2084.1,1565.6 2086.5,1566.1 2089.0,1566.4 2091.5,1567.0 2094.0,1563.9 2096.5,1565.6 2099.0,1566.8 2101.5,1566.1 2104.0,1566.7 2106.4,1564.6 2108.9,1565.7 2111.4,1564.7 2113.9,1565.8 2116.4,1564.9 2118.9,1565.9 2121.4,1565.5 2123.8,1565.3 2126.3,1564.4 2128.8,1564.6 2131.3,1564.6 2133.8,1564.7 2136.3,1564.8 2138.8,1565.4 2141.2,1564.5 2143.7,1565.9 2146.2,1565.2 2148.7,1565.0 2151.2,1564.5 2153.7,1565.3 2156.2,1566.0 2158.6,1565.6 2161.1,1565.4 2163.6,1564.7 2166.1,1564.1 2168.6,1564.6 2171.1,1563.0 2173.6,1565.0 2176.1,1566.0 2176.0,1566.0" fill="none" stroke="#0F6FE0" stroke-width="7" stroke-linejoin="round" stroke-linecap="butt"/>
<use href="#c2" x="1" y="0"/>
</g>
<g id="frame" fill="#000">
<rect x="187.2" y="30.8" width="4.6" height="1636.2"/>
<rect x="2175.1" y="30.8" width="6.9" height="1636.2"/>
<rect x="187.2" y="30.8" width="1994.8" height="6.8"/>
<rect x="187.2" y="1633" width="1994.8" height="6.8"/>
<rect x="311.4" y="1636" width="4.6" height="15"/>
<rect x="435.6" y="1636" width="6.0" height="31"/>
<rect x="559.7" y="1636" width="6.8" height="15"/>
<rect x="683.5" y="1636" width="6.9" height="31"/>
<rect x="808.0" y="1636" width="6.8" height="15"/>
<rect x="932.0" y="1636" width="6.8" height="31"/>
<rect x="1056.3" y="1636" width="6.8" height="15"/>
<rect x="1180.3" y="1636" width="6.8" height="31"/>
<rect x="1305.2" y="1636" width="5.8" height="15"/>
<rect x="1430.3" y="1636" width="4.7" height="31"/>
<rect x="1554.6" y="1636" width="4.7" height="15"/>
<rect x="1678.9" y="1636" width="5.7" height="31"/>
<rect x="1803.3" y="1636" width="6.7" height="15"/>
<rect x="1927.2" y="1636" width="6.8" height="31"/>
<rect x="2051.5" y="1636" width="6.5" height="15"/>
</g>
<g id="ticklabels">
<text transform="translate(189.5,1743) scale(1,1.03)" text-anchor="middle" font-size="70">500</text>
<text transform="translate(438.1,1743) scale(1,1.03)" text-anchor="middle" font-size="70">600</text>
<text transform="translate(686.8,1743) scale(1,1.03)" text-anchor="middle" font-size="70">700</text>
<text transform="translate(935.4,1743) scale(1,1.03)" text-anchor="middle" font-size="70">800</text>
<text transform="translate(1184.0,1743) scale(1,1.03)" text-anchor="middle" font-size="70">900</text>
<text transform="translate(1432.7,1743) scale(1,1.03)" text-anchor="middle" font-size="70">1000</text>
<text transform="translate(1681.3,1743) scale(1,1.03)" text-anchor="middle" font-size="70">1100</text>
<text transform="translate(1929.9,1743) scale(1,1.03)" text-anchor="middle" font-size="70">1200</text>
<text transform="translate(2178.5,1743) scale(1,1.03)" text-anchor="middle" font-size="70">1300</text>
</g>
<g id="legend">
<line x1="1399.5" y1="105.5" x2="1573" y2="105.5" stroke="#515151" stroke-width="6.8"/>
<text x="1609.6" y="133.7" font-size="83.0">25°C precipitate</text>
<line x1="1399.5" y1="207.7" x2="1573" y2="207.7" stroke="#FF4040" stroke-width="9.3"/>
<text x="1609.6" y="236.5" font-size="83.0">50°C precipitate</text>
<line x1="1399.5" y1="310" x2="1573" y2="310" stroke="#0F6FE0" stroke-width="7.1"/>
<text x="1609.6" y="339.5" font-size="83.0">80°C precipitate</text>
</g>
<text id="xlabel" x="878.4" y="1883.4" font-size="83.8">Raman shift(cm<tspan font-size="56" dy="-35">-1</tspan><tspan dy="35">)</tspan></text>
<text id="ylabel" transform="translate(120.9,1070.2) rotate(-90)" font-size="83.6">Intensity(a.u.)</text>
</svg>
</body></html>
